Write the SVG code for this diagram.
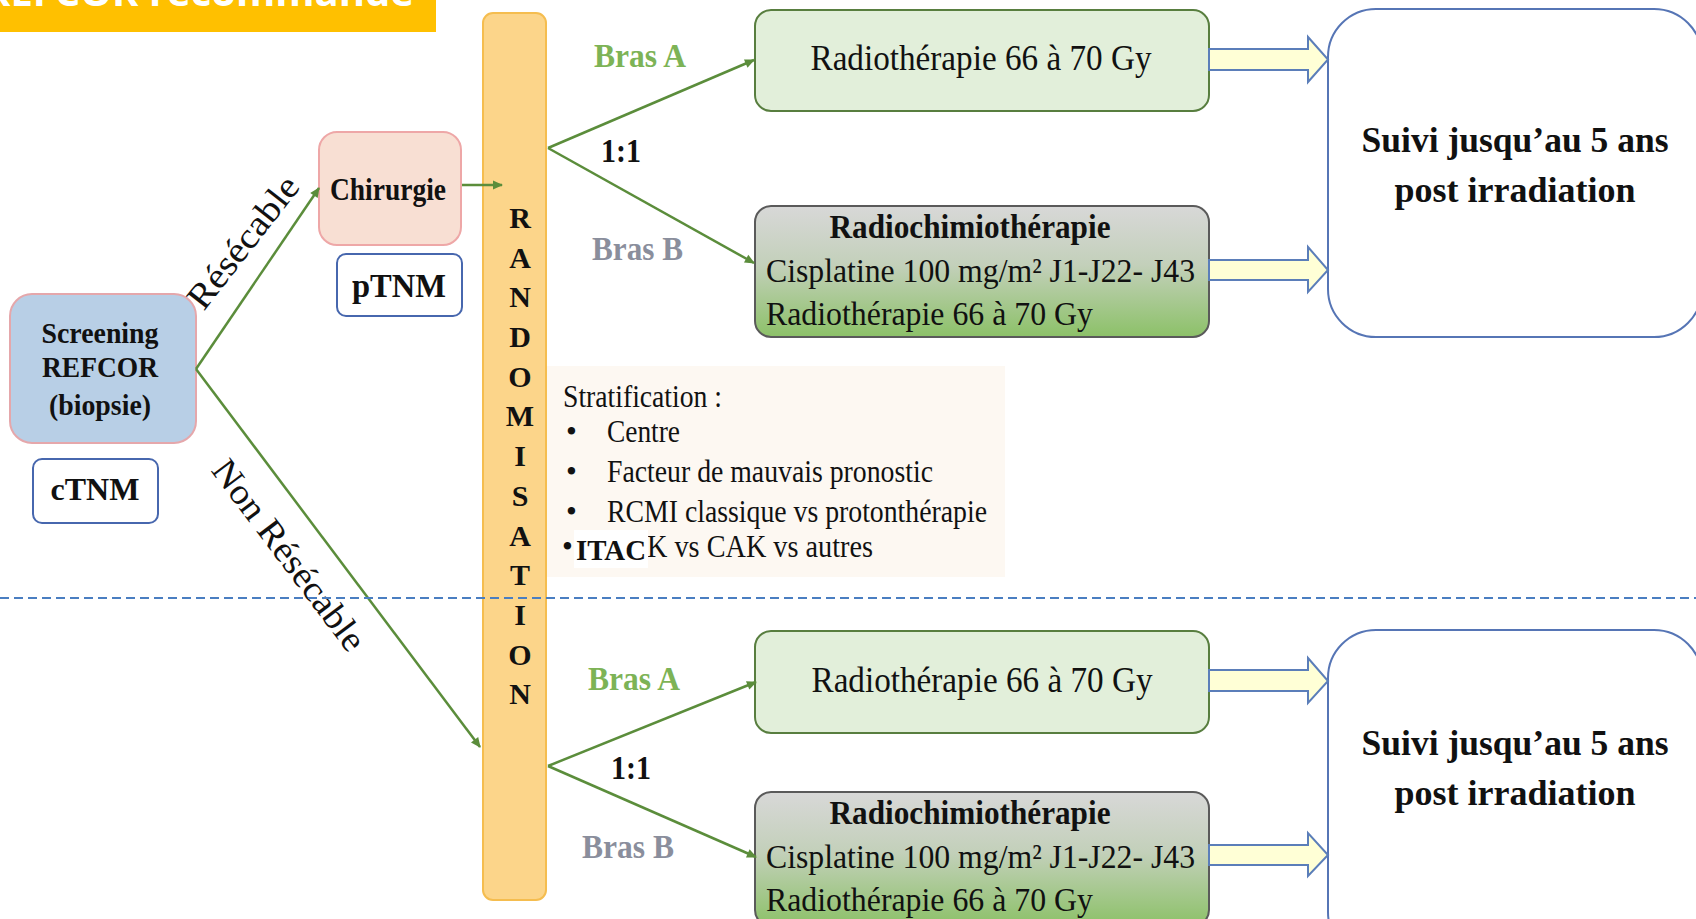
<svg xmlns="http://www.w3.org/2000/svg" width="1696" height="919" viewBox="0 0 1696 919">
  <defs>
    <style>
      .serif { font-family: "Liberation Serif", "Times New Roman", serif; fill: #111; }
      .b { font-weight: bold; }
      .flow { fill: none; stroke: #5B8D3B; stroke-width: 2.5; marker-end: url(#ah); }
      .tnm { fill: #fff; stroke: #4767AE; stroke-width: 2; }
      .armA { fill: #E2EFDA; stroke: #587E3F; stroke-width: 2; }
      .armB { fill: url(#gradB); stroke: #5A5A5A; stroke-width: 2; }
      .suivi { fill: #fff; stroke: #5675B5; stroke-width: 2; }
      .block { fill: #FFFFD6; stroke: #5B7EB9; stroke-width: 2; }
      .letter { font-family: "Liberation Serif", "Times New Roman", serif; font-weight: bold; font-size: 30px; fill: #111; text-anchor: middle; }
    </style>
    <linearGradient id="gradB" x1="0" y1="0" x2="0" y2="1">
      <stop offset="0" stop-color="#D8D8D8"/>
      <stop offset="0.45" stop-color="#C3D0BA"/>
      <stop offset="1" stop-color="#8CC168"/>
    </linearGradient>
    <marker id="ah" viewBox="0 0 10 10" refX="9" refY="5" markerWidth="12" markerHeight="10" markerUnits="userSpaceOnUse" orient="auto">
      <path d="M0,0.5 L10,5 L0,9.5 z" fill="#5B8D3B"/>
    </marker>
  </defs>

  <rect width="1696" height="919" fill="#fff"/>

  <!-- title banner, cropped at the top edge -->
  <g id="banner">
    <rect x="0" y="0" width="436" height="32" fill="#FFC000"/>
    <text x="414" y="6" text-anchor="end" font-family="'Open Sans', 'Liberation Sans', sans-serif" font-weight="bold" font-size="40" fill="#fff">REFCOR recommandé</text>
  </g>

  <!-- randomisation bar -->
  <g id="randomisation">
    <rect x="483" y="13" width="63" height="887" rx="10" fill="#FCD58A" stroke="#F5BD4F" stroke-width="2"/>
    <text class="letter" x="520" y="228">R</text>
    <text class="letter" x="520" y="268">A</text>
    <text class="letter" x="520" y="307">N</text>
    <text class="letter" x="520" y="347">D</text>
    <text class="letter" x="520" y="387">O</text>
    <text class="letter" x="520" y="426">M</text>
    <text class="letter" x="520" y="466">I</text>
    <text class="letter" x="520" y="506">S</text>
    <text class="letter" x="520" y="546">A</text>
    <text class="letter" x="520" y="585">T</text>
    <text class="letter" x="520" y="625">I</text>
    <text class="letter" x="520" y="665">O</text>
    <text class="letter" x="520" y="704">N</text>
  </g>

  <!-- stratification note -->
  <g id="stratification">
    <rect x="547" y="366" width="458" height="211" fill="#FDF8F2"/>
    <g class="serif" font-size="31">
      <text x="563" y="407" textLength="159" lengthAdjust="spacingAndGlyphs">Stratification :</text>
      <text x="566" y="442">•</text>
      <text x="607" y="442" textLength="73" lengthAdjust="spacingAndGlyphs">Centre</text>
      <text x="566" y="482">•</text>
      <text x="607" y="482" textLength="326" lengthAdjust="spacingAndGlyphs">Facteur de mauvais pronostic</text>
      <text x="566" y="522">•</text>
      <text x="607" y="522" textLength="380" lengthAdjust="spacingAndGlyphs">RCMI classique vs protonthérapie</text>
      <text x="562" y="557">•</text>
      <text x="647" y="557" textLength="226" lengthAdjust="spacingAndGlyphs">K vs CAK vs autres</text>
    </g>
    <rect x="574" y="530" width="74" height="38" fill="#fff"/>
    <text class="serif b" x="576" y="560" font-size="30" fill="#000" textLength="70" lengthAdjust="spacingAndGlyphs">ITAC</text>
  </g>

  <!-- entry nodes -->
  <g id="screening">
    <rect x="10" y="294" width="186" height="149" rx="22" fill="#B8CFE6" stroke="#E5A7AB" stroke-width="2"/>
    <g class="serif b" font-size="30" text-anchor="middle">
      <text x="100" y="343" textLength="117" lengthAdjust="spacingAndGlyphs">Screening</text>
      <text x="100" y="377" textLength="116" lengthAdjust="spacingAndGlyphs">REFCOR</text>
      <text x="100" y="415" textLength="102" lengthAdjust="spacingAndGlyphs">(biopsie)</text>
    </g>
  </g>
  <g id="ctnm">
    <rect class="tnm" x="33" y="459" width="125" height="64" rx="9"/>
    <text class="serif b" x="95" y="500" font-size="32" text-anchor="middle">cTNM</text>
  </g>
  <g id="chirurgie">
    <rect x="319" y="132" width="142" height="113" rx="18" fill="#F8DFD3" stroke="#EEA7A7" stroke-width="2"/>
    <text class="serif b" x="388" y="200" font-size="31" text-anchor="middle" textLength="116" lengthAdjust="spacingAndGlyphs">Chirurgie</text>
  </g>
  <g id="ptnm">
    <rect class="tnm" x="337" y="254" width="125" height="62" rx="9"/>
    <text class="serif b" x="399" y="297" font-size="33" text-anchor="middle" textLength="94" lengthAdjust="spacingAndGlyphs">pTNM</text>
  </g>

  <!-- treatment arms, resectable branch -->
  <g id="armA-top">
    <rect class="armA" x="755" y="10" width="454" height="101" rx="16"/>
    <text class="serif" x="981" y="70" font-size="36" text-anchor="middle" textLength="341" lengthAdjust="spacingAndGlyphs">Radiothérapie 66 à 70 Gy</text>
  </g>
  <g id="armB-top">
    <rect class="armB" x="755" y="206" width="454" height="131" rx="16"/>
    <text class="serif b" x="970" y="238" font-size="33" text-anchor="middle" textLength="281" lengthAdjust="spacingAndGlyphs">Radiochimiothérapie</text>
    <text class="serif" x="766" y="282" font-size="34" textLength="429" lengthAdjust="spacingAndGlyphs">Cisplatine 100 mg/m² J1-J22- J43</text>
    <text class="serif" x="766" y="325" font-size="34" textLength="327" lengthAdjust="spacingAndGlyphs">Radiothérapie 66 à 70 Gy</text>
  </g>
  <g id="suivi-top">
    <rect class="suivi" x="1328" y="9" width="374" height="328" rx="48"/>
    <text class="serif b" x="1515" y="152" font-size="36" text-anchor="middle" textLength="307" lengthAdjust="spacingAndGlyphs">Suivi jusqu’au 5 ans</text>
    <text class="serif b" x="1515" y="202" font-size="36" text-anchor="middle">post irradiation</text>
  </g>

  <!-- treatment arms, non-resectable branch -->
  <g id="armA-bottom">
    <rect class="armA" x="755" y="631" width="454" height="102" rx="16"/>
    <text class="serif" x="982" y="692" font-size="36" text-anchor="middle" textLength="341" lengthAdjust="spacingAndGlyphs">Radiothérapie 66 à 70 Gy</text>
  </g>
  <g id="armB-bottom">
    <rect class="armB" x="755" y="792" width="454" height="134" rx="16"/>
    <text class="serif b" x="970" y="824" font-size="33" text-anchor="middle" textLength="281" lengthAdjust="spacingAndGlyphs">Radiochimiothérapie</text>
    <text class="serif" x="766" y="868" font-size="34" textLength="429" lengthAdjust="spacingAndGlyphs">Cisplatine 100 mg/m² J1-J22- J43</text>
    <text class="serif" x="766" y="911" font-size="34" textLength="327" lengthAdjust="spacingAndGlyphs">Radiothérapie 66 à 70 Gy</text>
  </g>
  <g id="suivi-bottom">
    <rect class="suivi" x="1328" y="630" width="374" height="330" rx="48"/>
    <text class="serif b" x="1515" y="755" font-size="36" text-anchor="middle" textLength="307" lengthAdjust="spacingAndGlyphs">Suivi jusqu’au 5 ans</text>
    <text class="serif b" x="1515" y="805" font-size="36" text-anchor="middle">post irradiation</text>
  </g>

  <!-- connectors -->
  <g id="connectors">
    <path class="flow" d="M196,369 L319,188"/>
    <path class="flow" d="M196,369 L480,747"/>
    <path class="flow" d="M462,185 L502,185"/>
    <path class="flow" d="M548,148 L754,60"/>
    <path class="flow" d="M548,148 L754,263"/>
    <path class="flow" d="M548,766 L756,682"/>
    <path class="flow" d="M548,766 L756,857"/>

    <!-- hollow block arrows into follow-up -->
    <path class="block" d="M1209,49 H1308 V37 L1328,59.5 L1308,82 V70 H1209 Z"/>
    <path class="block" d="M1209,260 H1308 V247 L1328,270 L1308,292 V280 H1209 Z"/>
    <path class="block" d="M1209,670 H1308 V658 L1328,681 L1308,703 V691 H1209 Z"/>
    <path class="block" d="M1209,845 H1308 V833 L1328,855 L1308,876 V865 H1209 Z"/>
  </g>

  <!-- connector labels -->
  <g id="labels" class="serif" font-size="36">
    <text transform="translate(243,242) rotate(-52)" x="0" y="12" text-anchor="middle" textLength="158" lengthAdjust="spacingAndGlyphs">Résécable</text>
    <text transform="translate(289,555) rotate(53)" x="0" y="12" text-anchor="middle" textLength="230" lengthAdjust="spacingAndGlyphs">Non Résécable</text>
  </g>
  <g id="arm-labels" font-family="'Liberation Serif', 'Times New Roman', serif" font-size="33" font-weight="bold">
    <text x="594" y="67" fill="#7DB356" textLength="92" lengthAdjust="spacingAndGlyphs">Bras A</text>
    <text x="592" y="260" fill="#8A8E9C" textLength="91" lengthAdjust="spacingAndGlyphs">Bras B</text>
    <text x="601" y="162" fill="#111" textLength="40" lengthAdjust="spacingAndGlyphs">1:1</text>
    <text x="588" y="690" fill="#7DB356" textLength="92" lengthAdjust="spacingAndGlyphs">Bras A</text>
    <text x="582" y="858" fill="#8A8E9C" textLength="92" lengthAdjust="spacingAndGlyphs">Bras B</text>
    <text x="611" y="779" fill="#111" textLength="40" lengthAdjust="spacingAndGlyphs">1:1</text>
  </g>

  <!-- section divider -->
  <line id="divider" x1="0" y1="598" x2="1696" y2="598" stroke="#4A7EC1" stroke-width="2" stroke-dasharray="9 5"/>
</svg>
